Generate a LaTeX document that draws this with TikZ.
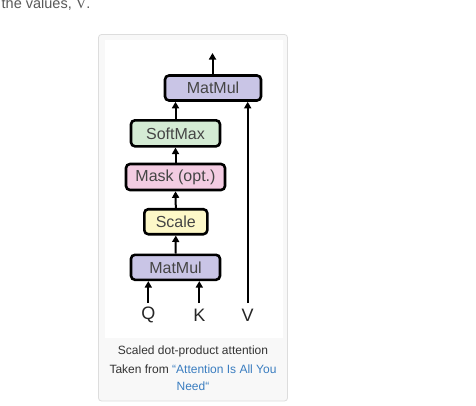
\documentclass[tikz,border=0pt]{standalone}
\usepackage{fontspec}
\setmainfont{Liberation Sans}
\newfontfamily\serifv{Liberation Serif}
\usetikzlibrary{arrows.meta}
\definecolor{mmfill}{HTML}{C9C5E6}
\definecolor{smfill}{HTML}{D4EBD4}
\definecolor{mkfill}{HTML}{F3CCE2}
\definecolor{scfill}{HTML}{FDF8C8}
\definecolor{boxtext}{HTML}{454545}
\definecolor{captext}{HTML}{333333}
\definecolor{linkblue}{HTML}{3A7DC0}
\definecolor{frameline}{HTML}{DDDDDD}
\definecolor{framefill}{HTML}{F8F8F8}
\begin{document}
\begin{tikzpicture}[x=1pt,y=-1pt,
  opbox/.style={draw=black,line width=2.6pt,rounded corners=4pt,inner sep=0pt,
    font=\fontsize{16}{18}\selectfont,text=boxtext,anchor=center},
  flow/.style={line width=2pt,-{Triangle[width=7pt,length=6.5pt]}},
  inlabel/.style={font=\fontsize{18}{20}\selectfont,text=black!85,inner sep=0pt},
  captxt/.style={font=\fontsize{12}{14}\selectfont,text=captext,inner sep=0pt}]
\useasboundingbox (0,0) rectangle (476,405);
\fill[white] (0,0) rectangle (476,405);
% preceding text line (cut off at the top, as in the reference)
\node[anchor=base west,inner sep=0pt,font=\fontsize{14.5}{16}\selectfont,text=black!65] (prev) at (1.5,8.5) {the values, {\serifv V}.};
% figure frame
\draw[frameline,fill=framefill,line width=0.8pt,rounded corners=3pt] (98.5,34.5) rectangle (287.5,401);
\fill[white] (105,40) rectangle (282.5,338);
% boxes
\node[opbox,fill=mmfill,minimum width=96pt,minimum height=25pt] (mm2) at (213,88) {MatMul};
\node[opbox,fill=smfill,minimum width=89pt,minimum height=26pt] (soft) at (175.5,133.3) {SoftMax};
\node[opbox,fill=mkfill,minimum width=99pt,minimum height=26pt] (mask) at (175.5,177) {Mask (opt.)};
\node[opbox,fill=scfill,minimum width=63pt,minimum height=25pt] (scale) at (175.8,221.7) {Scale};
\node[opbox,fill=mmfill,minimum width=89pt,minimum height=25pt] (mm1) at (175.5,267.3) {MatMul};
% inputs
\node[inlabel] (q) at (148.3,315) {Q};
\node[inlabel] (k) at (199.3,315) {K};
\node[inlabel] (v) at (247.7,315) {V};
\coordinate (qs) at (148.3,303);
\coordinate (ks) at (199.3,303);
\coordinate (vs) at (247.7,303);
\coordinate (out) at (212.5,53);
% connectors
\draw[flow] (qs) -- (qs |- mm1.south);
\draw[flow] (ks) -- (ks |- mm1.south);
\draw[flow] (vs) -- (vs |- mm2.south);
\draw[flow] (mm1.north) -- (scale.south);
\draw[flow] (scale.north) -- (mask.south);
\draw[flow] (mask.north) -- (soft.south);
\draw[flow] (soft.north) -- (soft.north |- mm2.south);
\draw[flow] (out |- mm2.north) -- (out);
% caption
\node[captxt] (cap1) at (193,351.7) {Scaled dot-product attention};
\node[captxt] (cap2) at (193,369.3) {Taken from \textcolor{linkblue}{“Attention Is All You}};
\node[captxt,text=linkblue] (cap3) at (193,386.7) {Need“};
\end{tikzpicture}
\end{document}
